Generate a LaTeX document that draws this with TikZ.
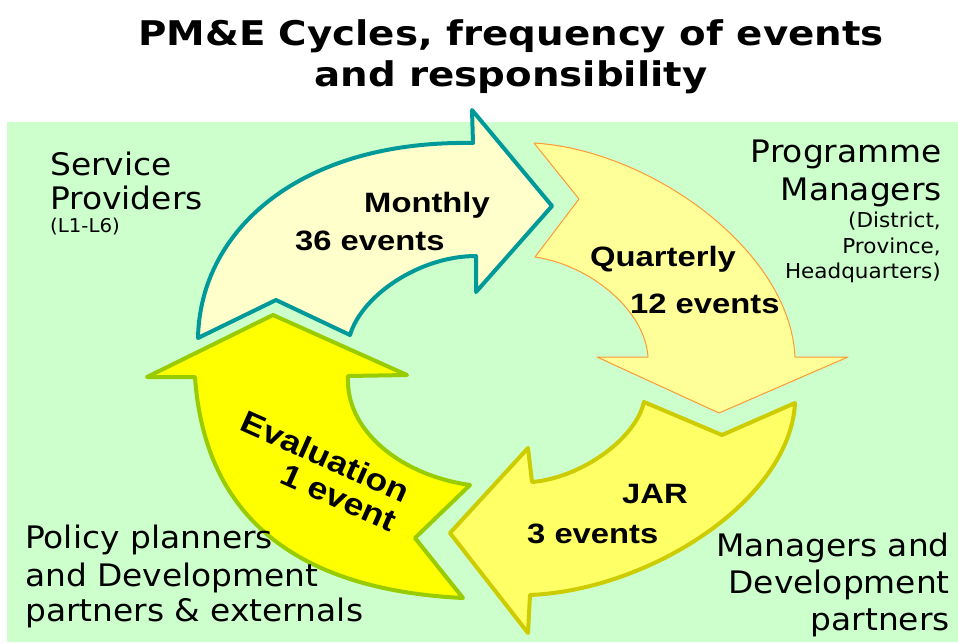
\documentclass[tikz,border=0pt]{standalone}
\usepackage{fontspec}
\newfontfamily\labfont{DejaVu Sans}
\newfontfamily\arwfont{Liberation Sans}
\definecolor{bggreen}{HTML}{CCFFCC}
\definecolor{teal}{HTML}{009999}
\definecolor{mfill}{HTML}{FFFFCC}
\definecolor{qfill}{HTML}{FFFF99}
\definecolor{qline}{HTML}{FF9933}
\definecolor{jfill}{HTML}{FFFF66}
\definecolor{jline}{HTML}{CCCC00}
\definecolor{efill}{HTML}{FFFF00}
\definecolor{eline}{HTML}{99CC00}
\tikzset{
  title/.style={font=\labfont\bfseries\fontsize{34}{40}\selectfont, inner sep=0, anchor=base, xscale=1.14},
  biglab/.style={font=\labfont\fontsize{31}{36}\selectfont, inner sep=0, xscale=1.06},
  smalllab/.style={font=\labfont\fontsize{19}{22}\selectfont, inner sep=0, xscale=1.04},
  sublab/.style={font=\labfont\fontsize{20.5}{24}\selectfont, inner sep=0, xscale=1.05},
  arwtext/.style={font=\arwfont\bfseries\fontsize{28}{32}\selectfont, inner sep=0, anchor=base west, xscale=1.17},
  arrowshape/.style={line join=round, line width=4pt}
}
\begin{document}
\begin{tikzpicture}[x=1pt,y=-1pt]
\useasboundingbox (0,0) rectangle (958,643);
\fill[bggreen] (7,122) rectangle (958,642);

% Title
\node[title] (t1) at (511,45) {PM\&E Cycles, frequency of events};
\node[title] (t2) at (511,86) {and responsibility};

% Monthly arrow
\draw[arrowshape, draw=teal, fill=mfill]
  (198,338) .. controls (200,230) and (300,140) .. (473,143)
  -- (472,110) -- (552,206) -- (476,292) -- (476,256)
  .. controls (420,256) and (362,295) .. (350,335)
  -- (276,300) -- cycle;

% Quarterly arrow
\draw[line join=round, line width=1pt, draw=qline, fill=qfill]
  (534,143) .. controls (650,150) and (790,250) .. (795,357)
  -- (848,357) -- (719,413) -- (597,357) -- (648,357)
  .. controls (645,310) and (590,265) .. (535,257)
  -- (579,199) -- cycle;

% JAR arrow
\draw[arrowshape, draw=jline, fill=jfill]
  (795,403) .. controls (790,500) and (650,590) .. (530,595)
  -- (528,633) -- (450,533) -- (528,448) -- (532,482)
  .. controls (580,478) and (635,440) .. (644,402)
  -- (722,435) -- cycle;

% Evaluation arrow
\draw[arrowshape, draw=eline, fill=efill]
  (195,377) .. controls (205,520) and (300,590) .. (463,598)
  -- (415,538) -- (470,485)
  .. controls (400,475) and (345,430) .. (348,376)
  -- (407,375) -- (273,315) -- (147,377) -- cycle;

% Arrow texts
\node[arwtext] (m1) at (364,212) {Monthly};
\node[arwtext] (m2) at (295,250) {36 events};
\node[arwtext] (q1) at (590,266) {Quarterly};
\node[arwtext] (q2) at (630,313) {12 events};
\node[arwtext] (j1) at (622,503) {JAR};
\node[arwtext] (j2) at (527,543) {3 events};
\node[font=\arwfont\bfseries\fontsize{31}{32}\selectfont, align=right, inner sep=0, rotate=-24, xscale=1.15] (ev) at (319,471) {Evaluation\\1 event};

% Labels
\node[biglab, anchor=base west] (sp1) at (50,175) {Service};
\node[biglab, anchor=base west] (sp2) at (50,209) {Providers};
\node[smalllab, anchor=base west] (sp3) at (50,232) {(L1-L6)};

\node[biglab, anchor=base east] (pm1) at (942,162) {Programme};
\node[biglab, anchor=base east] (pm2) at (942,200) {Managers};
\node[sublab, anchor=base east] (pm3) at (941,227) {(District,};
\node[sublab, anchor=base east] (pm4) at (941,253) {Province,};
\node[sublab, anchor=base east] (pm5) at (941,278) {Headquarters)};

\node[biglab, anchor=base west] (pp1) at (25,548) {Policy planners};
\node[biglab, anchor=base west] (pp2) at (25,586) {and Development};
\node[biglab, anchor=base west] (pp3) at (25,621) {partners \& externals};

\node[biglab, anchor=base east] (md1) at (950,556) {Managers and};
\node[biglab, anchor=base east] (md2) at (950,593) {Development};
\node[biglab, anchor=base east] (md3) at (950,630) {partners};
\end{tikzpicture}
\end{document}
